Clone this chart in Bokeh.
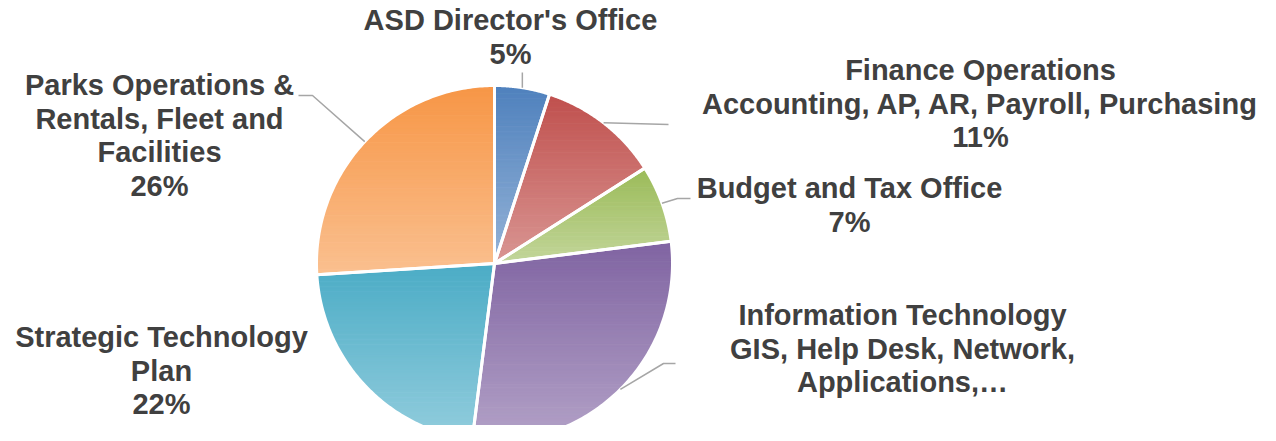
import numpy as np
from bokeh.plotting import figure
from bokeh.models import Range1d
from bokeh.core.properties import value
from bokeh.embed import file_html
from bokeh.resources import INLINE

# ---------------- data ----------------
categories = [
    "ASD Director's Office",
    "Finance Operations\nAccounting, AP, AR, Payroll, Purchasing",
    "Budget and Tax Office",
    "Information Technology\nGIS, Help Desk, Network,\nApplications,\u2026",
    "Strategic Technology\nPlan",
    "Parks Operations &\nRentals, Fleet and\nFacilities",
]
shares = [5, 11, 7, 29, 22, 26]
show_share = [True, True, True, False, True, True]  # IT label is truncated in the source
top_colors = ["#4F81BD", "#C0504D", "#9BBB59", "#8064A2", "#4BACC6", "#F79646"]
bottom_colors = ["#95B3D7", "#D99694", "#C3D69B", "#B3A2C7", "#93CDDD", "#FAC090"]

# ---------------- layout (pixel space of the picture) ----------------
CX, CY, R = 494.0, 263.0, 178.0
label_xy = [(510, 3.5), (980, 53.5), (849, 171.5), (902, 298.5), (161, 320.5), (159, 68.5)]
leader_pts = [[(522, 72)], [(668, 124)], [(677, 198), (690, 198)],
              [(663, 363), (675, 363)], None, [(312, 95), (298, 95)]]


def hex2rgb(h):
    h = h.lstrip("#")
    return np.array([int(h[i:i + 2], 16) for i in (0, 2, 4)], dtype=float)


def rgb2hex(c):
    return "#%02x%02x%02x" % tuple(int(round(v)) for v in c)


def clip_half(poly, yv, keep_above):
    out = []
    n = len(poly)
    for i in range(n):
        a = poly[i]
        b = poly[(i + 1) % n]
        ina = a[1] >= yv if keep_above else a[1] <= yv
        inb = b[1] >= yv if keep_above else b[1] <= yv
        if ina:
            out.append(a)
        if ina != inb:
            t = (yv - a[1]) / (b[1] - a[1])
            out.append((a[0] + t * (b[0] - a[0]), yv))
    return out


total = float(sum(shares))
fr = np.array(shares) / total
starts = np.concatenate([[0], np.cumsum(fr)[:-1]]) * 2 * np.pi
ends = np.cumsum(fr) * 2 * np.pi

p = figure(width=1260, height=425, x_range=Range1d(0, 1260), y_range=Range1d(425, 0),
           output_backend="svg", toolbar_location=None, min_border=0)
p.axis.visible = False
p.grid.visible = False
p.outline_line_color = None
p.background_fill_color = "white"

band_xs, band_ys, band_cols = [], [], []
slice_xs, slice_ys = [], []
for i in range(len(shares)):
    th = np.linspace(starts[i], ends[i], 120)
    px = CX + R * np.sin(th)
    py = CY - R * np.cos(th)
    poly = [(CX, CY)] + list(zip(px, py))
    slice_xs.append([q[0] for q in poly])
    slice_ys.append([q[1] for q in poly])
    ymin = min(q[1] for q in poly)
    ymax = max(q[1] for q in poly)
    N = 70
    edges = np.linspace(ymin, ymax, N + 1)
    c0, c1 = hex2rgb(top_colors[i]), hex2rgb(bottom_colors[i])
    for k in range(N):
        y0, y1 = edges[k], edges[k + 1] + 0.6
        part = clip_half(clip_half(poly, y0, True), y1, False)
        if len(part) < 3:
            continue
        t = (k + 0.5) / N
        band_xs.append([q[0] for q in part])
        band_ys.append([q[1] for q in part])
        band_cols.append(rgb2hex(c0 + (c1 - c0) * t))

p.patches(band_xs, band_ys, fill_color=band_cols, line_color=band_cols, line_width=0.5)
p.patches(slice_xs, slice_ys, fill_alpha=0, line_color="white", line_width=3, line_join="round")

# leader lines
mids = (starts + ends) / 2
for i, pts in enumerate(leader_pts):
    if not pts:
        continue
    sx = CX + R * np.sin(mids[i])
    sy = CY - R * np.cos(mids[i])
    if i == 0:
        pts = [(sx, pts[0][1])]
    xs = [sx] + [q[0] for q in pts]
    ys = [sy] + [q[1] for q in pts]
    p.line(xs, ys, line_color="#a6a6a6", line_width=1.5)

texts = [f"{c}\n{s}%" if show else c for c, s, show in zip(categories, shares, show_share)]
p.text(x=[q[0] for q in label_xy], y=[q[1] for q in label_xy], text=texts,
       text_align="center", text_baseline="top",
       text_font=value("Liberation Sans"), text_font_style="bold",
       text_font_size="29px", text_color="#404040", text_line_height=1.05)

open("out.html", "w").write(file_html(p, INLINE))
